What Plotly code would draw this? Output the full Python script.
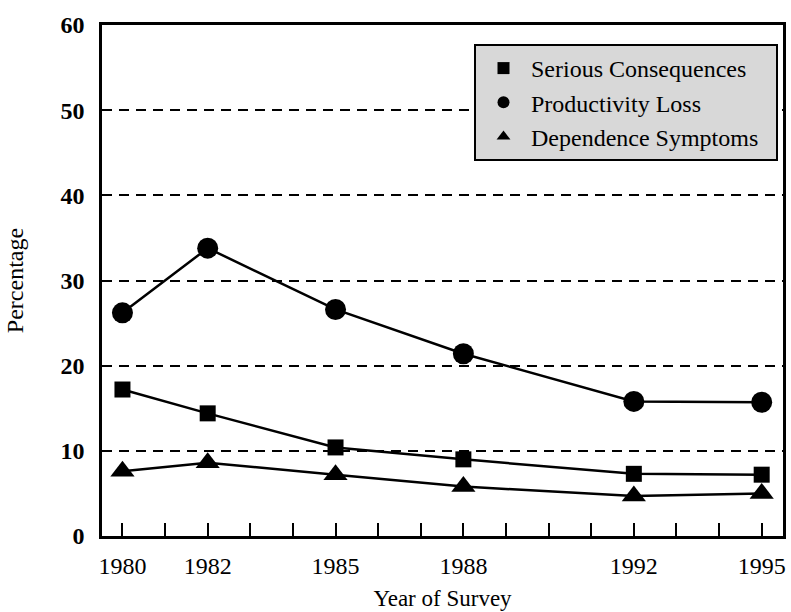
import plotly.graph_objects as go

years = [1980, 1982, 1985, 1988, 1992, 1995]
serious = [17.2, 14.4, 10.4, 9.0, 7.3, 7.2]
productivity = [26.2, 33.8, 26.6, 21.4, 15.8, 15.7]
dependence = [7.6, 8.6, 7.2, 5.8, 4.7, 5.0]

series_names = ["Serious Consequences", "Productivity Loss", "Dependence Symptoms"]
tick_years = list(range(1980, 1996))
tick_labels = [str(y) if y in years else "" for y in tick_years]
y_ticks = [0, 10, 20, 30, 40, 50, 60]

FONT = "Liberation Serif"

fig = go.Figure()
styles = [
    (serious, "square", 16),
    (productivity, "circle", 21),
    (dependence, "triangle-up", 21),
]
for name, (vals, sym, sz) in zip(series_names, styles):
    fig.add_trace(go.Scatter(
        x=years, y=vals, mode="lines+markers", name=name,
        line=dict(color="black", width=2.5),
        marker=dict(symbol=sym, size=sz, color="black"),
        showlegend=False,
    ))
for name, (vals, sym, sz) in zip(series_names, styles):
    fig.add_trace(go.Scatter(
        x=[None], y=[None], mode="markers", name=name + "\u00a0\u00a0",
        marker=dict(symbol=sym, size=sz, color="black"),
        showlegend=True,
    ))

fig.update_layout(
    width=791, height=612,
    margin=dict(l=102, r=8, t=25, b=76, autoexpand=False),
    paper_bgcolor="white", plot_bgcolor="white",
    font=dict(family=FONT, size=23, color="black"),
    showlegend=True,
    legend=dict(
        x=(474 - 102) / 681, xanchor="left", y=(536 - 44) / 511, yanchor="top",
        bgcolor="#d8d8d8", bordercolor="black", borderwidth=2,
        font=dict(family=FONT, size=24, color="black"),
        itemsizing="constant", tracegroupgap=0, itemwidth=45,
    ),
    xaxis=dict(
        range=[1979.52, 1995.5], automargin=False,
        tickvals=tick_years, ticktext=tick_labels,
        ticks="inside", ticklen=13, tickwidth=1.5, tickcolor="black",
        showline=True, linecolor="black", linewidth=2.5, mirror=True,
        showgrid=False, zeroline=False,
        tickfont=dict(family=FONT, size=24, color="black"),
        ticklabelstandoff=6,
        title=dict(text="Year of Survey", standoff=13,
                   font=dict(family=FONT, size=23, color="black")),
    ),
    yaxis=dict(
        range=[0, 60], tickvals=y_ticks, automargin=False,
        ticks="", showline=True, linecolor="black", linewidth=2.5, mirror=True,
        showgrid=True, gridcolor="black", gridwidth=2, griddash="10px,7px",
        zeroline=False,
        tickfont=dict(family=FONT, size=24, color="black", weight="bold"),
        ticklabelstandoff=10,
        title=dict(text="Percentage", standoff=31,
                   font=dict(family=FONT, size=24, color="black")),
    ),
)

fig.write_html("out.html",
               config={"displayModeBar": False},
               post_script="document.body.style.margin='0';document.body.style.overflow='hidden';")
